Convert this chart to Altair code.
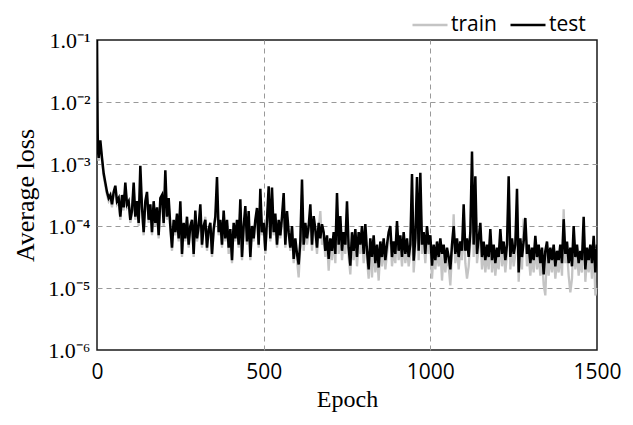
import altair as alt
import pandas as pd

# epochs sampled from the figure
epochs = [0, 1, 2, 3, 4] + list(range(5, 1501, 5))

# log10 of average loss
train_log10 = [
    -1.05, -1.95, -2.55, -2.8, -2.9,
    -2.95, -2.7, -2.95, -3.2, -3.35, -3.5, -3.6, -3.55, -3.7, -3.5, -3.45, -3.65, -3.6, -3.9, -3.55, -3.75, -3.4, -3.7, -3.65, -3.95,
    -3.8, -3.4, -3.9, -3.65, -4.0, -3.3, -3.75, -4.15, -3.65, -3.55, -3.95, -3.7, -4.15, -3.65, -4.0, -3.75, -4.2, -3.6, -3.6, -4.0,
    -3.4, -3.9, -3.65, -4.05, -4.4, -3.95, -4.15, -3.85, -4.25, -3.7, -4.5, -4.0, -4.25, -3.9, -4.35, -4.05, -3.95, -4.5, -3.85, -4.25,
    -4.1, -3.75, -4.35, -4.05, -3.85, -4.4, -4.1, -4.0, -4.5, -4.1, -3.9, -3.5, -4.15, -3.95, -4.35, -3.85, -4.25, -3.95, -4.45, -4.1,
    -4.6, -4.0, -4.25, -3.95, -4.35, -3.7, -4.55, -4.05, -3.8, -4.3, -3.85, -4.55, -4.05, -4.25, -3.95, -3.8, -4.35, -3.6, -4.15, -4.0,
    -4.45, -3.95, -3.55, -4.25, -3.55, -4.15, -3.85, -4.35, -3.95, -4.2, -3.9, -3.6, -4.35, -3.85, -4.15, -4.4, -4.05, -4.6, -4.25, -4.55,
    -4.83, -4.35, -3.5, -4.4, -4.05, -4.3, -4.1, -3.8, -4.4, -3.95, -4.15, -4.45, -4.05, -3.76, -4.3, -4.2, -4.5, -4.25, -4.72, -4.3,
    -4.55, -4.2, -4.6, -3.7, -4.45, -4.0, -4.55, -4.25, -4.45, -3.8, -4.5, -4.78, -4.25, -4.55, -4.2, -4.65, -4.25, -4.45, -4.15, -4.6,
    -4.15, -4.55, -4.85, -4.35, -4.83, -4.3, -4.75, -4.45, -4.88, -4.4, -4.65, -4.35, -4.7, -4.45, -4.25, -4.15, -4.65, -4.4, -4.6, -4.1,
    -4.55, -4.3, -4.65, -4.25, -4.6, -4.35, -4.65, -4.45, -3.5, -4.75, -4.35, -3.6, -4.55, -3.5, -4.45, -4.25, -4.6, -4.15, -4.45, -4.3,
    -4.85, -4.45, -4.7, -4.4, -4.65, -4.35, -4.88, -4.45, -4.75, -4.5, -4.65, -4.96, -4.45, -3.81, -4.6, -4.35, -4.7, -4.4, -4.55, -3.9,
    -4.6, -4.85, -4.65, -4.25, -3.2, -4.5, -3.5, -4.6, -4.35, -4.1, -4.7, -4.4, -4.75, -4.45, -4.7, -4.2, -4.75, -4.45, -4.8, -4.5,
    -4.7, -4.2, -4.65, -4.4, -4.75, -4.45, -3.5, -4.7, -4.35, -4.65, -4.45, -3.65, -4.9, -4.35, -4.7, -3.88, -4.1, -4.65, -4.45, -4.8,
    -4.5, -4.75, -4.3, -4.7, -4.45, -4.8, -4.5, -4.95, -5.12, -4.4, -4.8, -4.5, -4.75, -4.45, -4.85, -4.55, -4.75, -4.45, -4.8, -3.73,
    -4.6, -4.4, -4.8, -5.07, -4.85, -4.15, -4.7, -4.45, -4.8, -4.55, -4.75, -4.0, -4.9, -4.5, -4.75, -4.45, -4.85, -4.3, -5.12, -5.0,
]

test_log10 = [
    -1.0, -1.9, -2.5, -2.75, -2.85,
    -2.9, -2.62, -2.9, -3.15, -3.3, -3.45, -3.55, -3.5, -3.65, -3.45, -3.35, -3.6, -3.55, -3.85, -3.5, -3.7, -3.3, -3.65, -3.6, -3.9,
    -3.75, -3.3, -3.85, -3.6, -3.95, -3.03, -3.7, -4.1, -3.6, -3.45, -3.9, -3.65, -4.1, -3.6, -3.95, -3.7, -4.15, -3.55, -3.5, -3.95,
    -3.1, -3.85, -3.55, -4.0, -4.35, -3.9, -4.1, -3.8, -4.2, -3.6, -4.45, -3.95, -4.2, -3.85, -4.3, -4.0, -3.9, -4.45, -3.75, -4.2,
    -4.0, -3.65, -4.3, -4.0, -3.9, -4.35, -4.05, -3.95, -4.45, -4.05, -3.85, -3.21, -4.1, -3.9, -4.3, -3.75, -4.2, -3.9, -4.35, -4.05,
    -4.55, -3.95, -4.2, -3.9, -4.3, -3.57, -4.5, -4.0, -3.68, -4.25, -3.76, -4.5, -4.0, -4.2, -3.9, -3.71, -4.3, -3.4, -4.1, -3.95,
    -4.4, -3.9, -3.36, -4.2, -3.38, -4.1, -3.8, -4.3, -3.9, -4.15, -3.85, -3.47, -4.3, -3.76, -4.1, -4.35, -4.0, -4.53, -4.2, -4.45,
    -4.62, -4.25, -3.25, -4.3, -3.95, -4.2, -4.0, -3.65, -4.3, -3.84, -4.05, -4.35, -3.95, -4.2, -3.97, -4.1, -4.4, -4.15, -4.53, -4.2,
    -4.4, -4.1, -4.45, -3.47, -4.3, -3.84, -4.4, -4.1, -4.3, -3.6, -4.35, -4.64, -4.1, -4.4, -4.05, -4.5, -4.1, -4.3, -4.0, -4.45,
    -3.97, -4.4, -4.7, -4.2, -4.5, -4.15, -4.6, -4.3, -4.67, -4.25, -4.5, -4.2, -4.55, -4.3, -4.1, -4.0, -4.5, -4.25, -4.45, -3.92,
    -4.4, -4.15, -4.5, -4.1, -4.45, -4.2, -4.5, -4.3, -3.16, -4.56, -4.2, -3.21, -4.4, -3.14, -4.3, -4.1, -4.45, -4.0, -4.3, -4.15,
    -4.64, -4.3, -4.55, -4.25, -4.5, -4.2, -4.45, -4.3, -4.6, -4.35, -4.5, -4.7, -4.3, -4.0, -4.45, -4.2, -4.5, -4.25, -4.4, -3.65,
    -4.4, -4.2, -4.5, -4.1, -2.8, -4.3, -3.2, -4.45, -4.2, -3.95, -4.5, -4.25, -4.55, -4.3, -4.5, -4.05, -4.55, -4.3, -4.6, -4.35,
    -4.5, -4.05, -4.45, -4.25, -4.55, -4.3, -3.2, -4.5, -4.2, -4.45, -4.3, -3.4, -4.75, -4.2, -4.5, -4.25, -3.87, -4.45, -4.3, -4.6,
    -4.35, -4.55, -4.16, -4.5, -4.3, -4.6, -4.35, -4.78, -4.4, -4.25, -4.6, -4.35, -4.55, -4.3, -4.65, -4.4, -4.55, -4.3, -4.6, -3.89,
    -4.45, -4.25, -4.6, -4.35, -4.65, -4.0, -4.5, -4.3, -4.6, -4.4, -4.55, -3.85, -4.7, -4.35, -4.55, -4.3, -4.6, -4.16, -4.75, -4.3,
]

series_names = ["train", "test"]
series_colors = ["#c4c4c4", "#000000"]
x_ticks = [0, 500, 1000, 1500]
x_grid = [500, 1000]
y_ticks = [1e-6, 1e-5, 1e-4, 1e-3, 1e-2, 1e-1]
y_grid = [1e-5, 1e-4, 1e-3, 1e-2]

rows = []
for e, tr, te in zip(epochs, train_log10, test_log10):
    rows.append({"epoch": e, "series": "train", "loss": 10 ** tr})
    rows.append({"epoch": e, "series": "test", "loss": 10 ** te})
df = pd.DataFrame(rows)

color = alt.Color(
    "series:N",
    scale=alt.Scale(domain=series_names, range=series_colors),
    legend=alt.Legend(
        title=None, orient="none", legendX=314, legendY=-34, direction="horizontal",
        symbolType="stroke", symbolSize=1225, symbolStrokeWidth=2.4,
        labelFont="Open Sans", labelFontSize=21, labelColor="#000000",
        columnPadding=8, labelOffset=2, padding=0,
    ),
)

xscale = alt.Scale(domain=[0, 1500], nice=False, zero=False)
yscale = alt.Scale(type="log", domain=[1e-6, 1e-1], nice=False)

label_expr = "'1.0\u207b' + ['\u2070','\u00b9','\u00b2','\u00b3','\u2074','\u2075','\u2076'][round(-log(datum.value)/LN10)]"

grid_layer = alt.Chart(df).transform_filter("datum.series == 'train'").mark_line(
    strokeWidth=2.3, clip=True
).encode(
    x=alt.X("epoch:Q", scale=xscale, axis=alt.Axis(
        orient="top", values=x_grid, grid=True, labels=False, ticks=False, domain=False, title=None,
        gridColor="#999999", gridDash=[5, 4], gridWidth=1)),
    y=alt.Y("loss:Q", scale=yscale, axis=alt.Axis(
        orient="right", values=y_grid, grid=True, labels=False, ticks=False, domain=False, title=None,
        gridColor="#999999", gridDash=[5, 4], gridWidth=1)),
    color=color,
)

main_layer = alt.Chart(df).transform_filter("datum.series == 'test'").mark_line(
    strokeWidth=2.5, clip=True
).encode(
    x=alt.X("epoch:Q", scale=xscale, axis=alt.Axis(
        values=x_ticks, format="d", grid=False, ticks=False, domain=False, title="Epoch",
        labelFont="Open Sans", labelFontSize=21, labelColor="#000000", labelPadding=11,
        titleFont="Liberation Serif", titleFontSize=24, titleFontWeight="normal",
        titleColor="#000000", titlePadding=5, labelFlush=False)),
    y=alt.Y("loss:Q", scale=yscale, axis=alt.Axis(
        values=y_ticks, grid=False, ticks=False, domain=False, title="Average loss",
        labelExpr=label_expr, labelFont="Liberation Serif", labelFontSize=22,
        labelColor="#000000", labelPadding=7,
        titleFont="Liberation Serif", titleFontSize=26, titleFontWeight="normal",
        titleColor="#000000", titlePadding=9)),
    color=color,
)

chart = alt.layer(grid_layer, main_layer).resolve_axis(
    x="independent", y="independent"
).properties(
    width=500, height=310,
    autosize=alt.AutoSizeParams(type="none"),
    padding={"left": 97, "top": 40, "right": 36, "bottom": 75},
    background="white",
).configure_view(stroke="#1a1a1a", strokeWidth=1.5)

chart.save("out.html", embed_options={"renderer": "svg", "actions": False})
